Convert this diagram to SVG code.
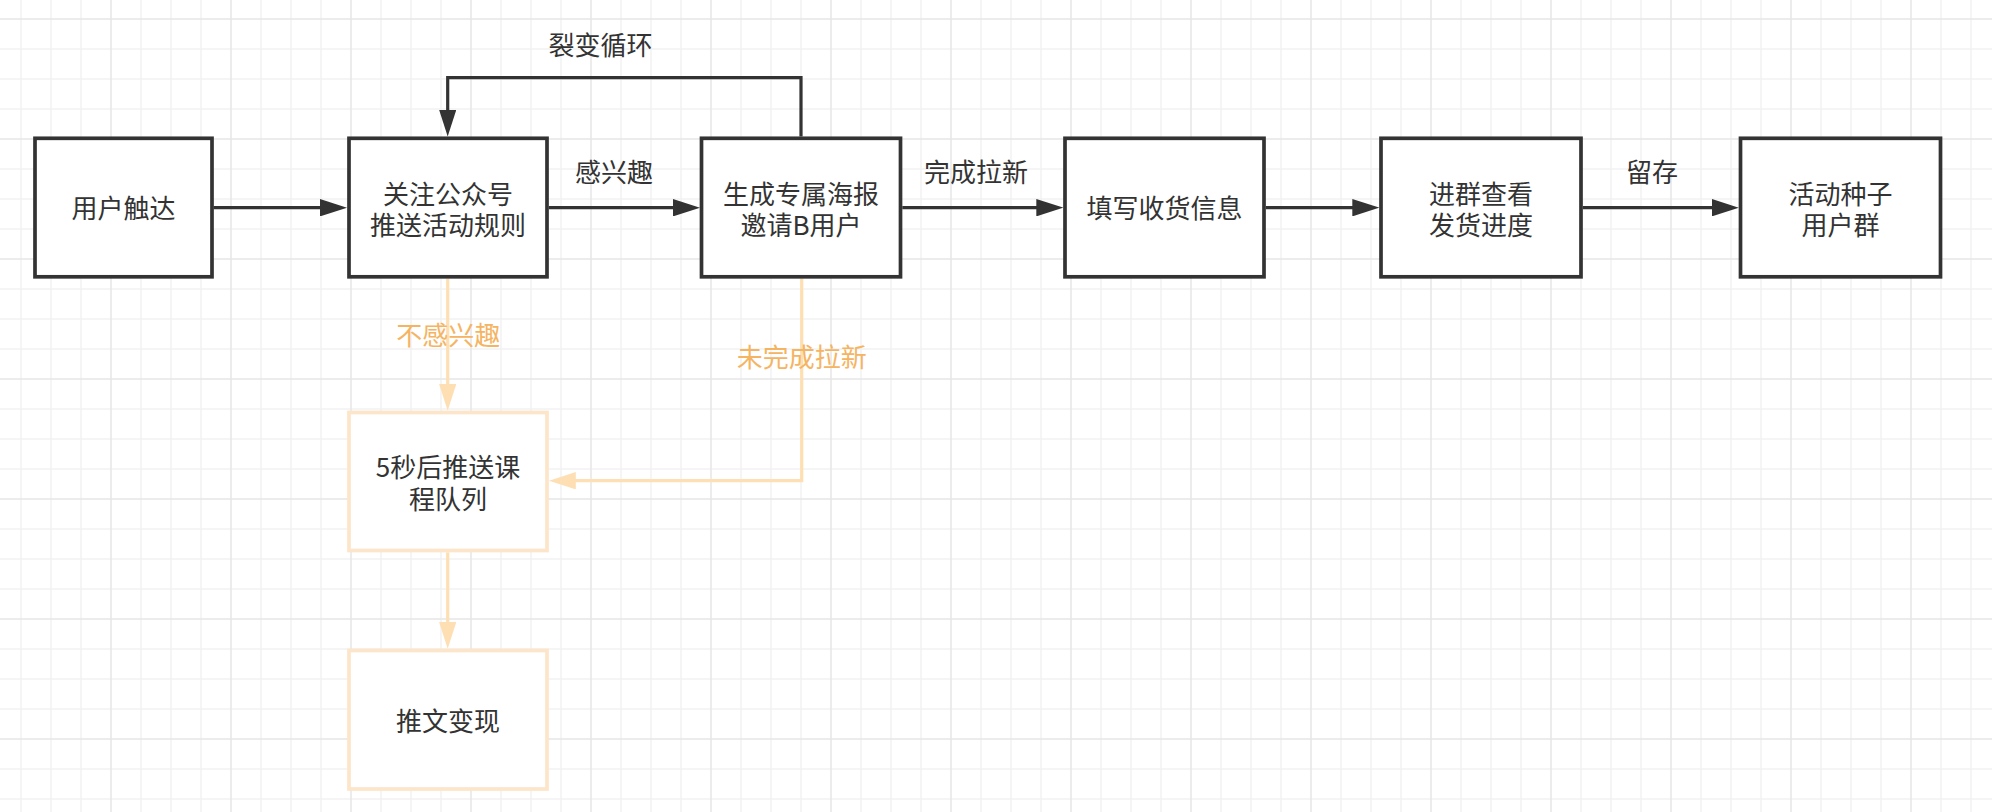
<svg xmlns="http://www.w3.org/2000/svg" width="1992" height="812" viewBox="0 0 1992 812">
<style>
.box{fill:#ffffff;stroke:#333333;stroke-width:3.7}
.obox{fill:#ffffff;stroke:#fde5c9;stroke-width:3.7}
.t{font-family:"Noto Sans CJK SC","Noto Sans",sans-serif;font-size:26px;fill:#333333;text-anchor:middle}
.ot{font-family:"Noto Sans CJK SC","Noto Sans",sans-serif;font-size:26px;fill:#f5b462;text-anchor:middle}
.ln{fill:none;stroke:#333333;stroke-width:3.2;stroke-linejoin:miter}
.oln{fill:none;stroke:#fedfb3;stroke-width:3.2;stroke-linejoin:miter}
</style>
<defs>
<pattern id="grid" x="96" y="4" width="120" height="120" patternUnits="userSpaceOnUse">
<path d="M45,0V120M75,0V120M105,0V120M0,45H120M0,75H120M0,105H120" stroke="#f2f2f2" stroke-width="1.5" fill="none"/>
<path d="M15,0V120M0,15H120" stroke="#e6e6e6" stroke-width="1.5" fill="none"/>
</pattern>
<marker id="ah" viewBox="0 0 27 17.4" refX="1" refY="8.7" markerWidth="27" markerHeight="17.4" markerUnits="userSpaceOnUse" orient="auto">
<path d="M0,0 L27,8.7 L0,17.4 Z" fill="#333333"/>
</marker>
<marker id="oah" viewBox="0 0 27 17.4" refX="1" refY="8.7" markerWidth="27" markerHeight="17.4" markerUnits="userSpaceOnUse" orient="auto">
<path d="M0,0 L27,8.7 L0,17.4 Z" fill="#fedfb3"/>
</marker>
</defs>
<rect x="0" y="0" width="1992" height="812" fill="#ffffff"/>
<rect x="0" y="0" width="1992" height="812" fill="url(#grid)"/>

<g id="connectors">
<path class="ln" d="M213.5,207.7 H321" marker-end="url(#ah)"/>
<path class="ln" d="M548.8,207.7 H674" marker-end="url(#ah)"/>
<path class="ln" d="M902.3,207.7 H1037.3" marker-end="url(#ah)"/>
<path class="ln" d="M1265.8,207.7 H1353.3" marker-end="url(#ah)"/>
<path class="ln" d="M1582.8,207.7 H1712.8" marker-end="url(#ah)"/>
<path class="ln" d="M801,136.5 V77.7 H447.7 V110.5" marker-end="url(#ah)"/>
<path class="oln" d="M447.7,278.6 V384.7" marker-end="url(#oah)"/>
<path class="oln" d="M801.7,278.6 V480.7 H574.8" marker-end="url(#oah)"/>
<path class="oln" d="M447.7,552.3 V622.7" marker-end="url(#oah)"/>
<text class="t" x="600.5" y="54.5">裂变循环</text>
<text class="t" x="614" y="181.5">感兴趣</text>
<text class="t" x="976" y="181.5">完成拉新</text>
<text class="t" x="1652" y="181.5">留存</text>
<text class="ot" x="448.3" y="344.5">不感兴趣</text>
<text class="ot" x="801.7" y="366.5">未完成拉新</text>
</g>

<g id="n1">
<rect class="box" x="35" y="138.3" width="177" height="138.5"/>
<text class="t" x="123.5" y="217.5">用户触达</text>
</g>
<g id="n2">
<rect class="box" x="349" y="138.3" width="198" height="138.5"/>
<text class="t" x="448" y="203.5">关注公众号</text>
<text class="t" x="448" y="235">推送活动规则</text>
</g>
<g id="n3">
<rect class="box" x="701.5" y="138.3" width="199" height="138.5"/>
<text class="t" x="801" y="203.5">生成专属海报</text>
<text class="t" x="801" y="235">邀请B用户</text>
</g>
<g id="n4">
<rect class="box" x="1065" y="138.3" width="199" height="138.5"/>
<text class="t" x="1164.5" y="217.5">填写收货信息</text>
</g>
<g id="n5">
<rect class="box" x="1381" y="138.3" width="200" height="138.5"/>
<text class="t" x="1481" y="203.5">进群查看</text>
<text class="t" x="1481" y="235">发货进度</text>
</g>
<g id="n6">
<rect class="box" x="1740.5" y="138.3" width="200" height="138.5"/>
<text class="t" x="1840.5" y="203.5">活动种子</text>
<text class="t" x="1840.5" y="235">用户群</text>
</g>
<g id="n7">
<rect class="obox" x="349" y="412.5" width="198" height="138"/>
<text class="t" x="448" y="476.5">5秒后推送课</text>
<text class="t" x="448" y="508.5">程队列</text>
</g>
<g id="n8">
<rect class="obox" x="349" y="650.5" width="198" height="138.5"/>
<text class="t" x="448" y="731">推文变现</text>
</g>
</svg>
